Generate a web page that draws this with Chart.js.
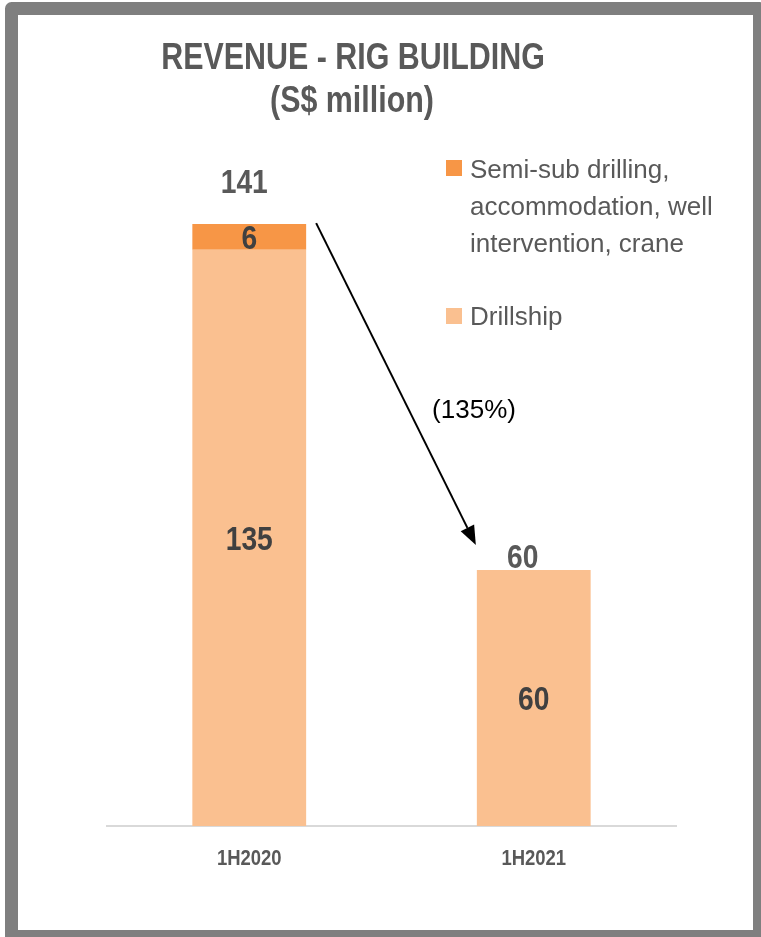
<!DOCTYPE html>
<html>
<head>
<meta charset="utf-8">
<script src="https://cdn.jsdelivr.net/npm/chart.js@4.4.0/dist/chart.umd.min.js"></script>
<style>
  html, body { margin: 0; padding: 0; background: #fff; }
  canvas { display: block; }
</style>
</head>
<body>
<canvas id="chart-rig" width="761" height="937"></canvas>
<script>
// data
var categories = ["1H2020", "1H2021"];
var drillship = [135, 60];
var semiSub = [6, null];
var totals = [141, 60];
var changeLabel = "(135%)";
var titleLines = ["REVENUE - RIG BUILDING", "(S$ million)"];
var legendSemiSub = ["Semi-sub drilling,", "accommodation, well", "intervention, crane"];
var legendDrillship = ["Drillship"];
var yMax = 160;

// no Arial Narrow here, so squeeze Liberation Sans horizontally
var bold = "'Liberation Sans', Arial, sans-serif";
var regular = "'Liberation Sans', Arial, sans-serif";
var squeeze = 0.83;
var grey = "#595959";
var dark = "#404040";
var orange = "#F79646";
var peach = "#FAC090";

// offsets of the total labels from the top of each stack (label baseline)
var totalOffsets = [[-5, -31], [-11, -2]];

var ctx = document.getElementById("chart-rig").getContext("2d");

function narrowText(c, text, x, y, factor) {
  c.save();
  c.translate(x, y);
  c.scale(factor, 1);
  c.fillText(text, 0, 0);
  c.restore();
}

function barTop(chart, i) {
  var top = Infinity;
  chart.data.datasets.forEach(function (ds, d) {
    var el = chart.getDatasetMeta(d).data[i];
    if (el && ds.data[i] != null) top = Math.min(top, el.y);
  });
  return top;
}

var slidePlugin = {
  id: "slide",
  beforeDraw: function (chart) {
    var c = chart.ctx;
    c.save();
    c.fillStyle = "#fff";
    c.fillRect(0, 0, chart.width, chart.height);
    c.restore();
  },
  afterDatasetsDraw: function (chart) {
    var c = chart.ctx;
    c.save();

    // value labels inside the segments
    c.textAlign = "center";
    c.textBaseline = "alphabetic";
    c.font = "bold 34px " + bold;
    c.fillStyle = dark;
    chart.data.datasets.forEach(function (ds, d) {
      chart.getDatasetMeta(d).data.forEach(function (bar, i) {
        var v = ds.data[i];
        if (v == null) return;
        var cy = (bar.y + bar.base) / 2;
        narrowText(c, String(v), bar.x, cy + 12, squeeze);
      });
    });

    // totals above the stacks
    c.fillStyle = grey;
    totals.forEach(function (t, i) {
      var bar = chart.getDatasetMeta(0).data[i];
      var top = barTop(chart, i);
      narrowText(c, String(t), bar.x + totalOffsets[i][0], top + totalOffsets[i][1], squeeze);
    });

    // category labels under the axis
    var xs = chart.scales.x;
    c.font = "bold 22px " + bold;
    categories.forEach(function (cat, i) {
      narrowText(c, cat, xs.getPixelForTick(i), chart.chartArea.bottom + 39, 0.84);
    });

    // arrow from first stack to second
    var b0 = chart.getDatasetMeta(0).data[0];
    var b1 = chart.getDatasetMeta(0).data[1];
    var x0 = b0.x + b0.width / 2 + 10, y0 = barTop(chart, 0) - 1;
    var x1 = b1.x - b1.width / 2 - 1, y1 = barTop(chart, 1) - 25;
    var ang = Math.atan2(y1 - y0, x1 - x0);
    var headLen = 19, headW = 7.5;
    var bx = x1 - headLen * Math.cos(ang), by = y1 - headLen * Math.sin(ang);
    c.strokeStyle = "#000";
    c.lineWidth = 2;
    c.beginPath();
    c.moveTo(x0, y0);
    c.lineTo(bx, by);
    c.stroke();
    c.fillStyle = "#000";
    c.beginPath();
    c.moveTo(x1, y1);
    c.lineTo(bx + headW * Math.sin(ang), by - headW * Math.cos(ang));
    c.lineTo(bx - headW * Math.sin(ang), by + headW * Math.cos(ang));
    c.closePath();
    c.fill();

    c.font = "26px " + regular;
    c.textAlign = "center";
    c.fillText(changeLabel, (x0 + x1) / 2 + 78, (y0 + y1) / 2 + 34);

    c.restore();
  },
  afterDraw: function (chart) {
    var c = chart.ctx;
    c.save();

    // title
    c.fillStyle = grey;
    c.textAlign = "center";
    c.textBaseline = "alphabetic";
    c.font = "bold 36px " + bold;
    narrowText(c, titleLines[0], 353, 69, 0.845);
    narrowText(c, titleLines[1], 352, 112, 0.845);

    // legend
    c.textAlign = "left";
    c.font = "26px " + regular;
    c.fillStyle = orange;
    c.fillRect(446, 160, 16, 16);
    c.fillStyle = grey;
    legendSemiSub.forEach(function (line, k) {
      c.fillText(line, 470, 178 + k * 37);
    });
    c.fillStyle = peach;
    c.fillRect(446, 308, 16, 16);
    c.fillStyle = grey;
    legendDrillship.forEach(function (line, k) {
      c.fillText(line, 470, 325 + k * 37);
    });

    // slide frame
    c.strokeStyle = "#7F7F7F";
    c.lineWidth = 13;
    c.lineJoin = "round";
    c.strokeRect(11.5, 8.5, 748, 928);

    c.restore();
  }
};

new Chart(ctx, {
  type: "bar",
  data: {
    labels: categories,
    datasets: [
      {
        label: legendDrillship.join(" "),
        data: drillship,
        backgroundColor: peach,
        borderWidth: 0,
        barPercentage: 0.4,
        categoryPercentage: 1.0,
      },
      {
        label: legendSemiSub.join(" "),
        data: semiSub,
        backgroundColor: orange,
        borderWidth: 0,
        barPercentage: 0.4,
        categoryPercentage: 1.0,
      },
    ],
  },
  options: {
    responsive: false,
    animation: false,
    devicePixelRatio: 1,
    layout: {
      padding: { left: 107, right: 85, top: 143, bottom: 111 },
    },
    plugins: {
      legend: { display: false },
      title: { display: false },
      tooltip: { enabled: false },
    },
    scales: {
      x: {
        stacked: true,
        grid: { display: false, drawTicks: false },
        border: { display: true, color: "#D9D9D9", width: 2 },
        ticks: { display: false },
      },
      y: {
        stacked: true,
        display: false,
        min: 0,
        max: yMax,
      },
    },
  },
  plugins: [slidePlugin],
});
</script>
</body>
</html>
